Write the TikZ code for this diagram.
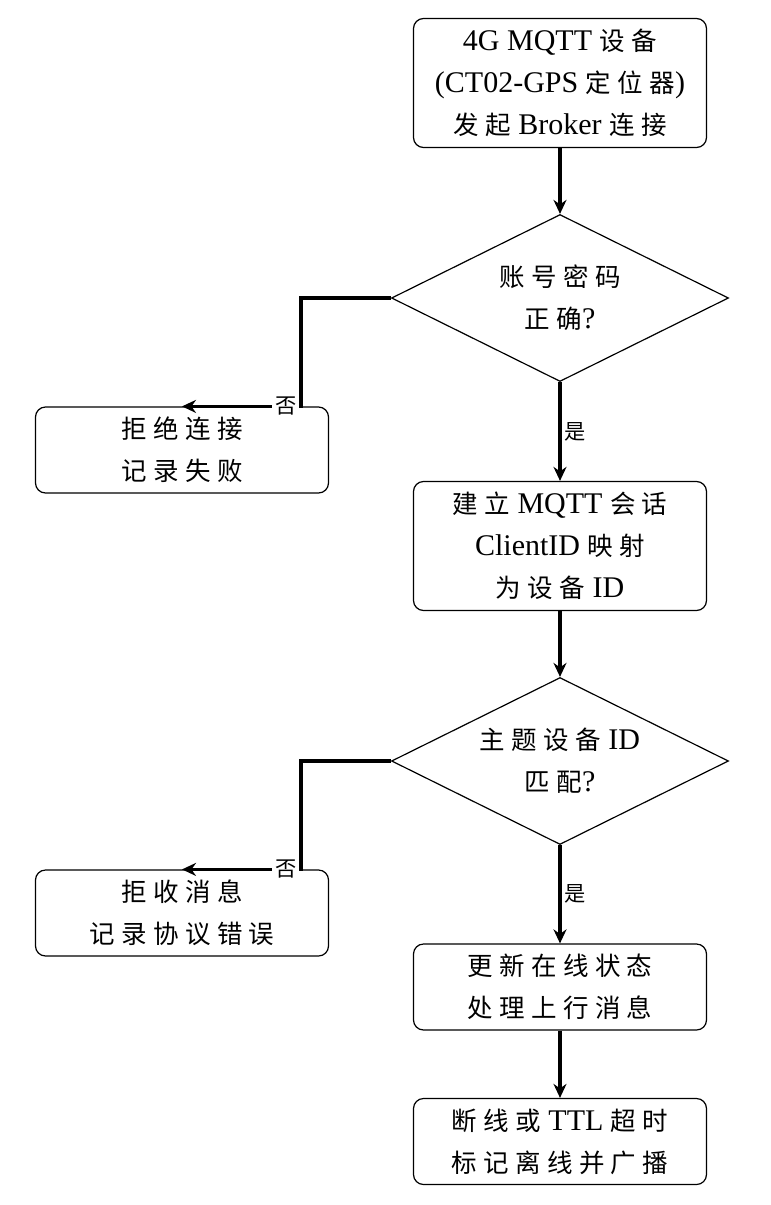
\documentclass[tikz,border=0pt]{standalone}
\usepackage{fontspec}
\setmainfont{Liberation Serif}
\newfontfamily\cjk{Noto Sans CJK SC}[Scale=0.85,LetterSpace=25]
\usetikzlibrary{shapes.geometric, arrows.meta}

\begin{document}
\begin{tikzpicture}[font=\fontsize{15}{21}\selectfont]
    % 定义样式
    \tikzstyle{proc} = [rectangle, draw, rounded corners=5pt, line width=0.6pt, minimum width=146.5pt, minimum height=43pt, align=center, inner sep=0pt]
    \tikzstyle{tall} = [minimum height=64.5pt]
    \tikzstyle{decision} = [diamond, draw, aspect=2, line width=0.6pt, minimum width=168.5pt, minimum height=83.5pt, align=center, inner sep=0pt]
    \tikzstyle{arrow} = [line width=1.6pt,->,>={Stealth[length=7pt,width=6.5pt]}]
    \tikzstyle{tag} = [font=\cjk\fontsize{12.5}{14}\selectfont, inner sep=1.5pt]

    \useasboundingbox (0,0) rectangle (385.5pt,-602.5pt);

    % 节点
    \node (dev) [proc, tall] at (280pt,-41.5pt) {4G MQTT {\cjk 设备}\\(CT02-GPS {\cjk 定位器})\\{\cjk 发起} Broker {\cjk 连接}};

    \node (auth) [decision] at (280pt,-149pt) {{\cjk 账号密码}\\{\cjk 正确}?};

    \node (deny) [proc] at (91pt,-225pt) {{\cjk 拒绝连接}\\{\cjk 记录失败}};

    \node (sess) [proc, tall] at (280pt,-273pt) {{\cjk 建立} MQTT {\cjk 会话}\\ClientID {\cjk 映射}\\{\cjk 为设备} ID};

    \node (topic) [decision] at (280pt,-380.5pt) {{\cjk 主题设备} ID\\{\cjk 匹配}?};

    \node (drop) [proc] at (91pt,-456.5pt) {{\cjk 拒收消息}\\{\cjk 记录协议错误}};

    \node (online) [proc] at (280pt,-493.5pt) {{\cjk 更新在线状态}\\{\cjk 处理上行消息}};

    \node (offline) [proc] at (280pt,-570.75pt) {{\cjk 断线或} TTL {\cjk 超时}\\{\cjk 标记离线并广播}};

    % 连接线
    \draw [arrow] (dev) -- (auth);
    \draw [arrow] (auth) -- (sess) node[midway,right,tag] {是};
    \draw [arrow] (auth.west) -- ++(-45pt,0) |- node[pos=0.5,left,tag,fill=white] {否} (deny.north);
    \draw [arrow] (sess) -- (topic);
    \draw [arrow] (topic) -- (online) node[midway,right,tag] {是};
    \draw [arrow] (topic.west) -- ++(-45pt,0) |- node[pos=0.5,left,tag,fill=white] {否} (drop.north);
    \draw [arrow] (online) -- (offline);
\end{tikzpicture}
\end{document}
